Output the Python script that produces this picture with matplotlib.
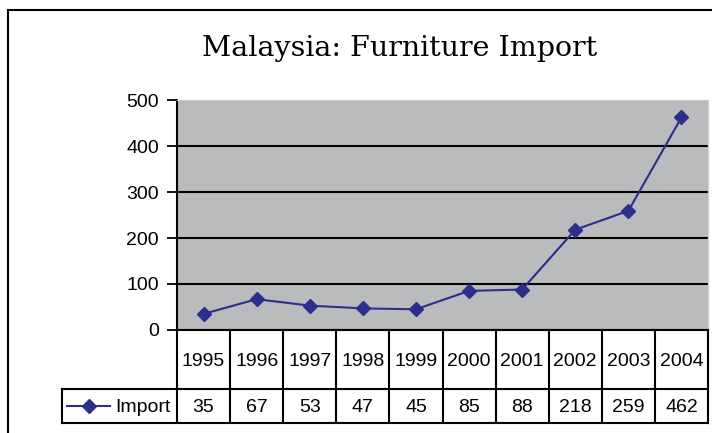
import matplotlib.pyplot as plt
from matplotlib.lines import Line2D

# data
years = ['1995', '1996', '1997', '1998', '1999', '2000', '2001', '2002', '2003', '2004']
imports = [35, 67, 53, 47, 45, 85, 88, 218, 259, 462]
series_name = 'Import'
title = 'Malaysia: Furniture Import'

W, H = 712, 433
navy = '#2d2d8c'
fig = plt.figure(figsize=(W / 100, H / 100), dpi=100)
fig.patch.set_facecolor('white')

# outer chart frame (cut off at right and bottom)
fig.add_artist(Line2D([8 / W, 8 / W], [0, 1 - 10 / H], color='black', lw=1.5))
fig.add_artist(Line2D([8 / W, 1], [1 - 10 / H, 1 - 10 / H], color='black', lw=1.5))

fig.text(400 / W, 1 - 49 / H, title, ha='center', va='center',
         family='DejaVu Serif', fontsize=20.5)

# plot area
px_l, px_r, px_t, px_b = 177, 708, 100, 330
ax = fig.add_axes([px_l / W, 1 - px_b / H, (px_r - px_l) / W, (px_b - px_t) / H])
ax.set_facecolor('#babbbd')
x = list(range(len(years)))
ax.plot(x, imports, color=navy, lw=1.5, marker='D', ms=7, zorder=3)
ax.set_xlim(-0.5, len(years) - 0.5)
ax.set_ylim(0, 500)
ax.set_yticks(range(0, 501, 100))
ax.yaxis.grid(True, color='black', lw=1.5)
ax.set_axisbelow(True)
ax.set_xticks([])
ax.tick_params(axis='y', direction='out', length=7, width=1.3, pad=6, labelsize=14)
for lab in ax.get_yticklabels():
    lab.set_family('Liberation Sans')
ax.spines['left'].set_linewidth(1.5)
ax.spines['bottom'].set_linewidth(1.5)
for s in ('top', 'right'):
    ax.spines[s].set_color('#d0d0d0')
    ax.spines[s].set_linewidth(1)

# data table below the plot
col_w = (px_r - px_l) / len(years)
tb_l, tb_t, tb_b = 62, 330, 423
row_split = 389
x_left = -0.5 - (px_l - tb_l) / col_w
tx = fig.add_axes([tb_l / W, 1 - tb_b / H, (px_r - tb_l) / W, (tb_b - tb_t) / H])
tx.set_xlim(x_left, len(years) - 0.5)
tx.set_ylim(0, 1)
tx.axis('off')
mid = (tb_b - row_split) / (tb_b - tb_t)
kw = dict(color='black', lw=1.5, clip_on=False)
for i in range(len(years) + 1):
    tx.plot([i - 0.5, i - 0.5], [0, 1], **kw)
tx.plot([x_left, x_left], [0, mid], **kw)
tx.plot([x_left, len(years) - 0.5], [mid, mid], **kw)
tx.plot([x_left, len(years) - 0.5], [0, 0], **kw)

tfont = dict(family='Liberation Sans', fontsize=14, ha='center', va='center_baseline')
for i, (yr, v) in enumerate(zip(years, imports)):
    tx.text(i, (1 + mid) / 2, yr, **tfont)
    tx.text(i, mid / 2, str(v), **tfont)

# legend key in the table
tx.plot([x_left + 0.1, x_left + 0.9], [mid / 2, mid / 2], color=navy, lw=1.5)
tx.plot([x_left + 0.5], [mid / 2], color=navy, marker='D', ms=7)
tx.text(x_left + 1.0, mid / 2, series_name, family='Liberation Sans', fontsize=14,
        ha='left', va='center_baseline')

fig.savefig('out.png', dpi=100)
